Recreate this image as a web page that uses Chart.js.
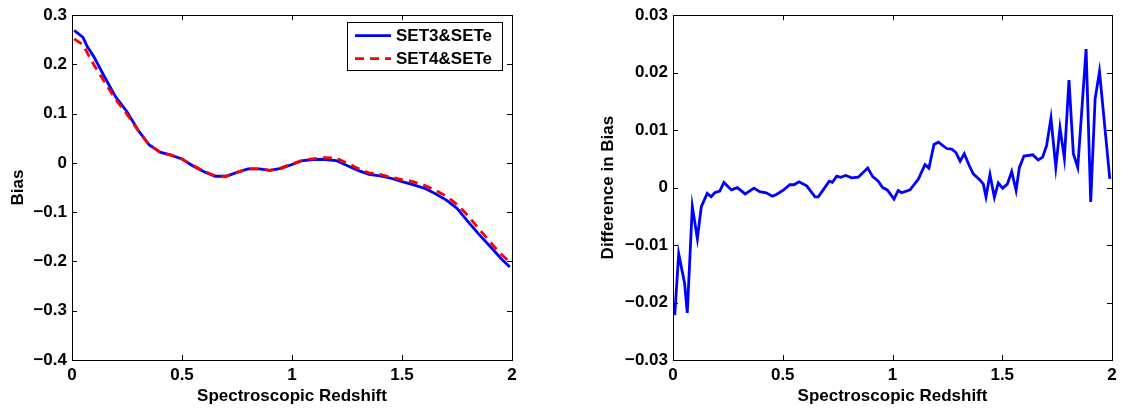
<!DOCTYPE html>
<html>
<head>
<meta charset="utf-8">
<script src="https://cdn.jsdelivr.net/npm/chart.js@4/dist/chart.umd.min.js"></script>
<style>
  body { margin: 0; background: #fff; }
  #wrap { position: relative; width: 1128px; height: 408px; }
  canvas { position: absolute; top: 0; }
  #biasChart { left: 0; }
  #diffChart { left: 564px; }
</style>
</head>
<body>
<div id="wrap">
  <canvas id="biasChart" width="564" height="408"></canvas>
  <canvas id="diffChart" width="564" height="408"></canvas>
</div>
<script>
// left panel: bias vs spectroscopic redshift
const biasZ = [0.01, 0.05, 0.07, 0.1, 0.15, 0.2, 0.25, 0.3, 0.35, 0.4, 0.45, 0.5, 0.55, 0.6, 0.65, 0.7, 0.75, 0.8, 0.85, 0.9, 0.95,
  1.0, 1.05, 1.1, 1.15, 1.2, 1.25, 1.3, 1.35, 1.4, 1.45, 1.5, 1.55, 1.6, 1.65, 1.7, 1.75, 1.8, 1.85, 1.9, 1.95, 1.99];
const biasSet3 = [0.269, 0.255, 0.236, 0.215, 0.173, 0.133, 0.104, 0.067, 0.037, 0.022, 0.016, 0.008, -0.006, -0.018, -0.027, -0.027, -0.019, -0.012, -0.012, -0.015, -0.011,
  -0.003, 0.005, 0.007, 0.007, 0.005, -0.005, -0.015, -0.023, -0.026, -0.031, -0.038, -0.044, -0.051, -0.062, -0.075, -0.092, -0.119, -0.145, -0.169, -0.194, -0.211];
const biasSet4 = [0.252, 0.240, 0.223, 0.199, 0.163, 0.128, 0.099, 0.066, 0.037, 0.022, 0.016, 0.008, -0.005, -0.017, -0.026, -0.027, -0.019, -0.012, -0.012, -0.015, -0.010,
  -0.002, 0.006, 0.009, 0.011, 0.010, 0.000, -0.011, -0.020, -0.023, -0.029, -0.034, -0.038, -0.045, -0.055, -0.067, -0.084, -0.107, -0.134, -0.160, -0.185, -0.201];
const seriesNames = ['SET3&SETe', 'SET4&SETe'];

// right panel: difference in bias
const diffZ = [0.008, 0.026, 0.053, 0.065, 0.088, 0.111, 0.129, 0.156, 0.174, 0.19, 0.213, 0.232, 0.266, 0.293, 0.329, 0.369, 0.395, 0.425, 0.452, 0.471,
  0.501, 0.532, 0.551, 0.574, 0.609, 0.647, 0.662, 0.712, 0.726, 0.746, 0.764, 0.787, 0.814, 0.844, 0.887, 0.91, 0.935, 0.955, 0.976,
  1.007, 1.026, 1.042, 1.08, 1.118, 1.148, 1.166, 1.189, 1.209, 1.247, 1.27, 1.289, 1.308, 1.327, 1.35, 1.368, 1.399, 1.414, 1.426, 1.444, 1.464,
  1.482, 1.502, 1.523, 1.543, 1.563, 1.578, 1.599, 1.639, 1.664, 1.684, 1.702, 1.722, 1.744, 1.763, 1.783, 1.804, 1.824, 1.844, 1.882, 1.903, 1.923, 1.943, 1.99];
const diffVal = [-0.0222, -0.0115, -0.0167, -0.0218, -0.0033, -0.0089, -0.0033, -0.0010, -0.0016, -0.0009, -0.0006, 0.0009, -0.0004, 0.0000, -0.0011, -0.0001, -0.0007, -0.0009, -0.0015, -0.0012,
  -0.0005, 0.0005, 0.0005, 0.0010, 0.0003, -0.0016, -0.0016, 0.0011, 0.0009, 0.0020, 0.0018, 0.0021, 0.0017, 0.0018, 0.0034, 0.0019, 0.0011, 0.0000, -0.0004,
  -0.0020, -0.0005, -0.0009, -0.0004, 0.0015, 0.0040, 0.0034, 0.0075, 0.0079, 0.0068, 0.0067, 0.0061, 0.0046, 0.0059, 0.0038, 0.0024, 0.0013, 0.0006, -0.0016, 0.0023, -0.0017,
  0.0008, -0.0001, 0.0006, 0.0028, -0.0005, 0.0035, 0.0055, 0.0057, 0.0048, 0.0053, 0.0073, 0.0121, 0.0035, 0.0104, 0.0051, 0.0187, 0.0059, 0.0035, 0.0241, -0.0025, 0.0154, 0.0202, 0.0015];

const xTitle = 'Spectroscopic Redshift';
const fontFamily = '"Liberation Sans", Arial, Helvetica, sans-serif';

function pairs(xs, ys) {
  return xs.map(function (x, i) { return { x: x, y: ys[i] }; });
}

function fmt(digits) {
  return function (v) {
    if (Math.abs(v) < 1e-9) return '0';
    return (v < 0 ? '\u2212' : '') + Math.abs(v).toFixed(digits);
  };
}

// matlab style frame with inward ticks on all four sides
const boxTicks = {
  id: 'boxTicks',
  afterDraw(chart) {
    const ctx = chart.ctx;
    const a = chart.chartArea;
    const len = 5;
    ctx.save();
    ctx.strokeStyle = '#000';
    ctx.lineWidth = 1;
    ctx.beginPath();
    chart.scales.x.ticks.forEach(function (t) {
      const px = Math.round(chart.scales.x.getPixelForValue(t.value)) + 0.5;
      ctx.moveTo(px, a.bottom); ctx.lineTo(px, a.bottom - len);
      ctx.moveTo(px, a.top); ctx.lineTo(px, a.top + len);
    });
    chart.scales.y.ticks.forEach(function (t) {
      const py = Math.round(chart.scales.y.getPixelForValue(t.value)) + 0.5;
      ctx.moveTo(a.left, py); ctx.lineTo(a.left + len, py);
      ctx.moveTo(a.right, py); ctx.lineTo(a.right - len, py);
    });
    ctx.stroke();
    ctx.strokeRect(Math.round(a.left) + 0.5, Math.round(a.top) + 0.5, Math.round(a.right - a.left), Math.round(a.bottom - a.top));
    ctx.restore();
  }
};

// boxed legend in the top right corner of the plot
const boxLegend = {
  id: 'boxLegend',
  afterDraw(chart) {
    const ctx = chart.ctx;
    const a = chart.chartArea;
    const w = 155, h = 48;
    const left = a.right - 10 - w, top = a.top + 7;
    ctx.save();
    ctx.fillStyle = '#fff';
    ctx.fillRect(left, top, w, h);
    ctx.strokeStyle = '#000';
    ctx.lineWidth = 1;
    ctx.strokeRect(Math.round(left) + 0.5, Math.round(top) + 0.5, w, h);
    chart.data.datasets.forEach(function (ds, i) {
      const y = top + 13.5 + i * 23;
      ctx.beginPath();
      ctx.strokeStyle = ds.borderColor;
      ctx.lineWidth = ds.borderWidth;
      ctx.setLineDash(ds.borderDash || []);
      ctx.moveTo(left + 8, y);
      ctx.lineTo(left + 44, y);
      ctx.stroke();
      ctx.setLineDash([]);
      ctx.fillStyle = '#000';
      ctx.font = 'bold 17px ' + fontFamily;
      ctx.textBaseline = 'middle';
      ctx.fillText(ds.label, left + 49, y + 1);
    });
    ctx.restore();
  }
};

function makeOptions(yMin, yMax, yStep, yDigits, yTitle, yWidth, yTitlePad, padRight) {
  return {
    responsive: false,
    animation: false,
    layout: { padding: { top: 14, right: padRight, left: 0, bottom: 0 } },
    plugins: { legend: { display: false }, tooltip: { enabled: false } },
    elements: { point: { radius: 0 }, line: { tension: 0 } },
    scales: {
      x: {
        type: 'linear', min: 0, max: 2,
        grid: { display: false, drawTicks: false, tickLength: 0 }, border: { display: false },
        ticks: {
          stepSize: 0.5, padding: 5, color: '#000', maxRotation: 0,
          font: { family: fontFamily, size: 17, weight: 'bold' },
          callback: function (v) { return String(+v.toFixed(1)); }
        },
        title: { display: true, text: xTitle, color: '#000', padding: { top: 0, bottom: 1 },
          font: { family: fontFamily, size: 17, weight: 'bold' } },
        afterFit: function (s) { s.height = 48; }
      },
      y: {
        min: yMin, max: yMax,
        grid: { display: false, drawTicks: false, tickLength: 0 }, border: { display: false },
        ticks: {
          stepSize: yStep, padding: 5, color: '#000',
          font: { family: fontFamily, size: 17, weight: 'bold' },
          callback: fmt(yDigits)
        },
        title: { display: true, text: yTitle, color: '#000', padding: { top: yTitlePad, bottom: 0 },
          font: { family: fontFamily, size: 17, weight: 'bold' } },
        afterFit: function (s) { s.width = yWidth; }
      }
    }
  };
}

new Chart(document.getElementById('biasChart'), {
  type: 'line',
  data: {
    datasets: [{
      label: seriesNames[0],
      data: pairs(biasZ, biasSet3),
      borderColor: '#0000ff',
      borderWidth: 2.8,
      order: 1
    }, {
      label: seriesNames[1],
      data: pairs(biasZ, biasSet4),
      borderColor: '#ff0000',
      borderWidth: 2.8,
      borderDash: [9, 6],
      order: 0
    }]
  },
  options: makeOptions(-0.4, 0.3, 0.1, 1, 'Bias', 72, 8, 52),
  plugins: [boxTicks, boxLegend]
});

new Chart(document.getElementById('diffChart'), {
  type: 'line',
  data: {
    datasets: [{
      label: 'Difference',
      data: pairs(diffZ, diffVal),
      borderColor: '#0000ff',
      borderWidth: 2.8
    }]
  },
  options: makeOptions(-0.03, 0.03, 0.01, 2, 'Difference in Bias', 109, 34, 16),
  plugins: [boxTicks]
});
</script>
</body>
</html>
